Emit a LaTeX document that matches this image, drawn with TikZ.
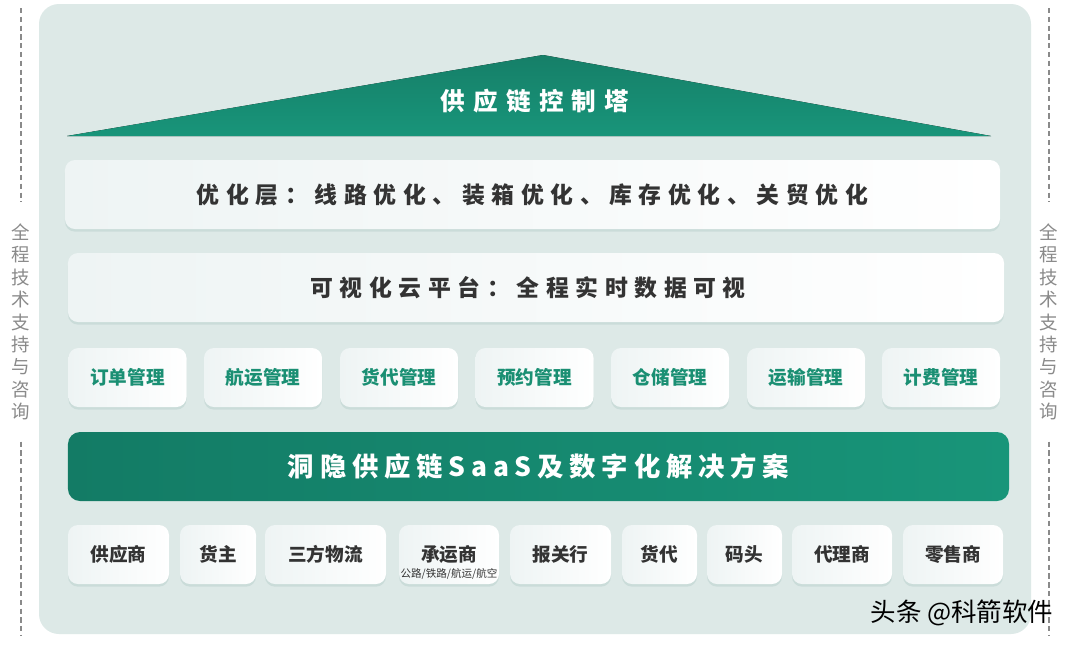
\documentclass[tikz,border=0pt]{standalone}
\usepackage{fontspec}
\usetikzlibrary{shadows,positioning}
\newfontfamily\cjk{Noto Sans CJK SC}
\newfontfamily\cjkwide{Noto Sans CJK SC}[LetterSpace=29]
\newfontfamily\cjktower{Noto Sans CJK SC}[LetterSpace=33]
\newfontfamily\cjkbar{Noto Sans CJK SC}[LetterSpace=22]

\definecolor{panelbg}{HTML}{DDE9E7}
\definecolor{towertop}{HTML}{167F68}
\definecolor{towerbot}{HTML}{18957A}
\definecolor{bardark}{HTML}{137B65}
\definecolor{barlight}{HTML}{189579}
\definecolor{modgreen}{HTML}{1A8F73}
\definecolor{darktext}{HTML}{333333}
\definecolor{sidegray}{HTML}{8A8A8A}
\definecolor{boxleft}{HTML}{EEF4F4}
\definecolor{shadowc}{HTML}{A9C4C0}

\tikzset{
  card/.style={rounded corners=2mm, left color=boxleft, right color=white,
    drop shadow={shadow xshift=0pt, shadow yshift=-1.5pt, opacity=.35, fill=shadowc}},
  layerbox/.style={card, minimum height=13.8mm, text=darktext,
    font=\cjkwide\bfseries\fontsize{13}{15}\selectfont},
  modbox/.style={card, minimum width=23.6mm, minimum height=11.8mm, text=modgreen,
    font=\cjk\bfseries\fontsize{10.6}{12}\selectfont},
  partbox/.style={card, minimum height=11.8mm, text=darktext,
    font=\cjk\bfseries\fontsize{10.6}{12}\selectfont},
  sidetext/.style={align=center, inner sep=0pt, text=sidegray,
    font=\cjk\fontsize{10.5}{12.75}\selectfont},
  sideline/.style={sidegray, line width=0.6pt, dash pattern=on 3pt off 2pt},
}

\begin{document}
\begin{tikzpicture}[x=0.2mm, y=-0.2mm]
  \useasboundingbox (0,0) rectangle (1080,647);
  \fill[white] (0,0) rectangle (1080,647);

  % Background panel
  \fill[panelbg, rounded corners=4mm] (39,4) rectangle (1031,634);

  % Control tower roof
  \fill[top color=towertop, bottom color=towerbot] (67,136) -- (543,55) -- (991,136) -- cycle;
  \node[text=white, font=\cjktower\bfseries\fontsize{14}{16}\selectfont] (tower) at (535,101) {供应链控制塔};

  % Two layer bars
  \node[layerbox, minimum width=187mm] (optim) at (532.5,194.5) {优化层：线路优化、装箱优化、库存优化、关贸优化};
  \node[layerbox, minimum width=187.2mm] (visual) at (536,287.5) {\hspace*{-9pt}可视化云平台：全程实时数据可视};

  % Management modules
  \node[modbox] (ordm) at (127.5,377.5) {订单管理};
  \node[modbox] (shipm) at (263,377.5) {航运管理};
  \node[modbox] (fwdm) at (399,377.5) {货代管理};
  \node[modbox] (bookm) at (534.5,377.5) {预约管理};
  \node[modbox] (whm) at (670,377.5) {仓储管理};
  \node[modbox] (tranm) at (806,377.5) {运输管理};
  \node[modbox] (billm) at (941,377.5) {计费管理};

  % SaaS bar
  \node[rounded corners=2.4mm, left color=bardark, right color=barlight,
        minimum width=188.2mm, minimum height=13.8mm, text=white,
        font=\cjkbar\bfseries\fontsize{15}{17}\selectfont] (saas) at (538.5,466.5) {洞隐供应链SaaS及数字化解决方案};

  % Partners
  \node[partbox, minimum width=20.2mm] (supp) at (118.5,554.5) {供应商};
  \node[partbox, minimum width=15.2mm] (owner) at (218,554.5) {货主};
  \node[partbox, minimum width=24.2mm] (tpl) at (325.5,554.5) {三方物流};
  \node[partbox, minimum width=20mm] (carr) at (449,554.5) {承运商};
  \node[text=darktext, font=\cjk\fontsize{6}{7}\selectfont, inner sep=0pt] (carrsub) at ([yshift=-11pt]carr.center) {公路/铁路/航运/航空};
  \node[partbox, minimum width=20.2mm] (cust) at (560.5,554.5) {报关行};
  \node[partbox, minimum width=15mm] (fwd) at (659.5,554.5) {货代};
  \node[partbox, minimum width=15mm] (port) at (744.5,554.5) {码头};
  \node[partbox, minimum width=20mm] (agent) at (842,554.5) {代理商};
  \node[partbox, minimum width=20mm] (retail) at (953,554.5) {零售商};

  % Side notes with dashed rules
  \node[sidetext] (lnote) at (21,322) {全\\程\\技\\术\\支\\持\\与\\咨\\询};
  \node[sidetext] (rnote) at (1049,322) {全\\程\\技\\术\\支\\持\\与\\咨\\询};
  \coordinate (ltop) at (21,8);
  \coordinate (lbot) at (21,635);
  \coordinate (rtop) at (1049,8);
  \coordinate (rbot) at (1049,635);
  \draw[sideline] (ltop) -- ([yshift=12pt]lnote.north);
  \draw[sideline] ([yshift=-12pt]lnote.south) -- (lbot);
  \draw[sideline] (rtop) -- ([yshift=12pt]rnote.north);
  \draw[sideline] ([yshift=-12pt]rnote.south) -- (rbot);

  % Watermark
  \node[font=\cjk\fontsize{14.5}{16}\selectfont] (wmark) at (962,613) {头条 @科箭软件};
\end{tikzpicture}
\end{document}
